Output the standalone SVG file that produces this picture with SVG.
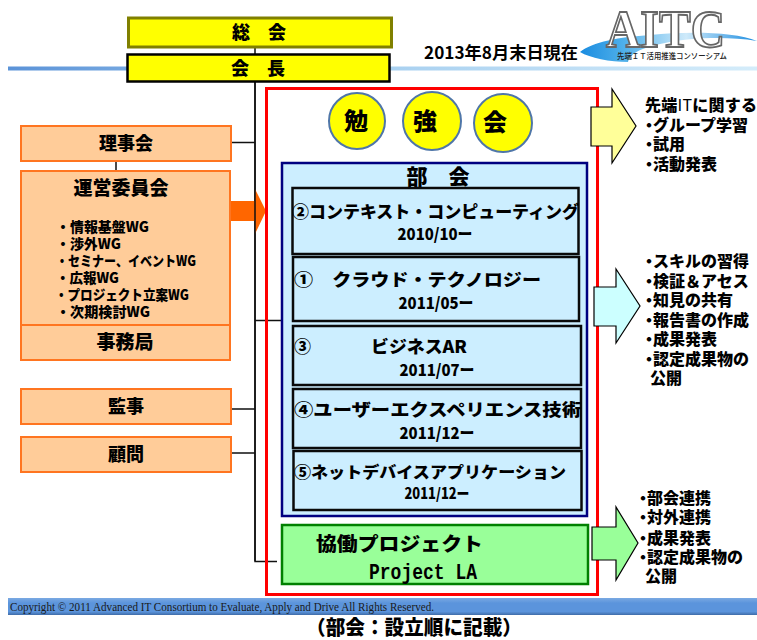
<svg xmlns="http://www.w3.org/2000/svg" width="757" height="640" viewBox="0 0 757 640">
<style>
text{font-family:"Noto Sans CJK JP","Liberation Sans",sans-serif;font-weight:900;fill:#000}
.o{fill:#ffcc99;stroke:#ff7520;stroke-width:2}
.c{fill:#ffff00;stroke:#4f76a8;stroke-width:2}
.b{fill:#cceeff;stroke:#0a0a0a;stroke-width:2.5}
.l{stroke:#111;stroke-width:1.5;fill:none}
.m{text-anchor:middle}
.t18{font-size:18px}.t17{font-size:17px}.t16{font-size:16px}.t14{font-size:14px}
.bu{letter-spacing:-4px}
.n{font-weight:400}
</style>
<defs>
<linearGradient id="rule" x1="0" x2="1" y1="0" y2="0"><stop offset="0" stop-color="#5b93d8"/><stop offset="0.5" stop-color="#a8d0f0"/><stop offset="1" stop-color="#d4ecfa"/></linearGradient>
<linearGradient id="bar" x1="0" x2="0" y1="0" y2="1"><stop offset="0" stop-color="#7aa9e2"/><stop offset="0.3" stop-color="#5b94dc"/><stop offset="0.8" stop-color="#5b94dc"/><stop offset="1" stop-color="#3f6ca8"/></linearGradient>
<linearGradient id="sw" x1="0" x2="1" y1="0" y2="0"><stop offset="0" stop-color="#1a8ce0"/><stop offset="0.25" stop-color="#4fb0ea"/><stop offset="0.6" stop-color="#cfeafa"/><stop offset="1" stop-color="#1a8ce0"/></linearGradient>
</defs>
<rect x="8" y="66.500" width="749" height="4" fill="url(#rule)"/>
<g id="logo">
<path d="M580 52C592 42 620 37 650 35C690 31 735 32 757 41C725 36 690 38 665 43C645 47 630 52 628 62C610 62 590 58 580 52Z" fill="url(#sw)"/>
<text x="606" y="47" font-size="52.500" textLength="119" lengthAdjust="spacingAndGlyphs" style="font-family:'Liberation Serif',serif;font-weight:700;fill:#fff;stroke:#666;stroke-width:1.8">AITC</text>
<text x="617" y="59" font-size="8" textLength="110" lengthAdjust="spacingAndGlyphs" style="font-weight:500;fill:#222">先端ＩＴ活用推進コンソーシアム</text>
</g>
<text id="date" x="424" y="59" font-size="17" textLength="154" lengthAdjust="spacingAndGlyphs" style="font-weight:700">2013年8月末日現在</text>
<g id="connectors">
<path class="l" d="M255 48V54M255 81V561.500H277M231 142.500H255M116 161V171M255 320.500H282M231 409H255M231 453H255"/>
<path d="M231 201H255V189L266 211L255 234V221H231Z" fill="#ff6600"/>
<path class="l" d="M255 81V561"/>
</g>
<g id="n-sokai"><rect x="128.500" y="18" width="263" height="29" fill="#ffff00" stroke="#808000" stroke-width="3"/><text class="m t18" x="259" y="39">総　会</text></g>
<g id="n-kaicho"><rect x="127.500" y="54.500" width="262" height="27" fill="#ffff00" stroke="#000" stroke-width="2.500"/><text class="m t18" x="258" y="75">会　長</text></g>
<g id="n-riji"><rect class="o" x="21" y="126" width="210" height="35"/><text class="m t18" x="126" y="150">理事会</text></g>
<g id="n-unei"><rect class="o" x="21" y="171" width="209" height="154"/><text class="m" font-size="19" x="121" y="195">運営委員会</text>
<g class="t14"><text x="56" y="231.500" textLength="93" lengthAdjust="spacingAndGlyphs">・情報基盤WG</text><text x="56" y="248.500" textLength="65" lengthAdjust="spacingAndGlyphs">・渉外WG</text><text x="56" y="265.500" textLength="140" lengthAdjust="spacingAndGlyphs">・セミナー、イベントWG</text><text x="56" y="282.500" textLength="63" lengthAdjust="spacingAndGlyphs">・広報WG</text><text x="55" y="299.500" textLength="134" lengthAdjust="spacingAndGlyphs">・プロジェクト立案WG</text><text x="56" y="317" textLength="94" lengthAdjust="spacingAndGlyphs">・次期検討WG</text></g></g>
<g id="n-jimu"><rect class="o" x="21" y="325" width="209" height="35"/><text class="m" font-size="19" x="125" y="349">事務局</text></g>
<g id="n-kanji"><rect class="o" x="21" y="389" width="210" height="35"/><text class="m t18" x="126" y="413">監事</text></g>
<g id="n-komon"><rect class="o" x="21" y="437" width="210" height="35"/><text class="m t18" x="126" y="461">顧問</text></g>
<rect id="frame" x="266.500" y="88.500" width="331" height="506" fill="none" stroke="#ff0000" stroke-width="3"/>
<g id="n-ben"><circle class="c" cx="357" cy="121" r="28"/><text class="m" x="356" y="130" font-size="24">勉</text></g>
<g id="n-kyo"><circle class="c" cx="432" cy="121" r="29"/><text class="m" x="425" y="130" font-size="24">強</text></g>
<g id="n-kai"><circle class="c" cx="503" cy="123" r="29"/><text class="m" x="495" y="131" font-size="24">会</text></g>
<g id="n-bukai"><rect x="282" y="163" width="305" height="353" fill="#cceeff" stroke="#000080" stroke-width="2.500"/><text class="m" x="438" y="184" font-size="21">部　会</text></g>
<g id="n-b2"><rect class="b" x="292.500" y="188" width="286" height="66"/><text x="292" y="218" class="t17" textLength="287" lengthAdjust="spacingAndGlyphs">②コンテキスト・コンピューティング</text><text class="m t16" x="435" y="240" textLength="75" lengthAdjust="spacingAndGlyphs">2010/10ー</text></g>
<g id="n-b1"><rect class="b" x="293" y="257" width="286" height="64"/><text x="294" y="286" class="t17" textLength="247" lengthAdjust="spacingAndGlyphs">①　クラウド・テクノロジー</text><text class="m t16" x="436" y="309" textLength="75" lengthAdjust="spacingAndGlyphs">2011/05ー</text></g>
<g id="n-b3"><rect class="b" x="293" y="326" width="288" height="59"/><text x="294" y="353" class="t17">③</text><text x="371" y="353" class="t17" textLength="96" lengthAdjust="spacingAndGlyphs">ビジネスAR</text><text class="m t16" x="437" y="376" textLength="75" lengthAdjust="spacingAndGlyphs">2011/07ー</text></g>
<g id="n-b4"><rect class="b" x="293" y="389" width="288" height="59"/><text x="294" y="416" class="t17" textLength="287" lengthAdjust="spacingAndGlyphs">④ユーザーエクスペリエンス技術</text><text class="m t16" x="437" y="439" textLength="75" lengthAdjust="spacingAndGlyphs">2011/12ー</text></g>
<g id="n-b5"><rect class="b" x="293.500" y="451" width="288" height="59"/><text x="294" y="478" font-size="16" textLength="272" lengthAdjust="spacingAndGlyphs">⑤ネットデバイスアプリケーション</text><text class="m" x="437" y="499" font-size="15" textLength="65" lengthAdjust="spacingAndGlyphs">2011/12ー</text></g>
<g id="n-kyodo"><rect x="282" y="525" width="306" height="59" fill="#99ff99" stroke="#008000" stroke-width="2.500"/><text x="316" y="551" font-size="19" textLength="167" lengthAdjust="spacingAndGlyphs">協働プロジェクト</text><text x="369" y="579" font-size="22" textLength="108" lengthAdjust="spacingAndGlyphs" style="font-family:'Liberation Mono',monospace;font-weight:700">Project LA</text></g>
<g id="a-yellow"><path d="M591 107H612V89L636 126L612 163V146H591Z" fill="#ffff99" stroke="#000" stroke-width="1.200"/></g>
<g id="a-cyan"><path d="M594 287H616V269L640 306L616 343V326H594Z" fill="#ccffff" stroke="#000" stroke-width="1.200"/></g>
<g id="a-green"><path d="M592 527H616V507L638 543L616 580V560H592Z" fill="#99ff99" stroke="#000" stroke-width="1.200"/></g>
<g id="note1" class="t16"><text x="645" y="111" textLength="112" lengthAdjust="spacing">先端<tspan class="n">IT</tspan>に関する</text><text x="641" y="131"><tspan class="bu">・</tspan>グループ学習</text><text x="641" y="150"><tspan class="bu">・</tspan>試用</text><text x="641" y="170"><tspan class="bu">・</tspan>活動発表</text></g>
<g id="note2" class="t16"><text x="641" y="267"><tspan class="bu">・</tspan>スキルの習得</text><text x="641" y="287"><tspan class="bu">・</tspan>検証＆アセス</text><text x="641" y="306"><tspan class="bu">・</tspan>知見の共有</text><text x="641" y="326"><tspan class="bu">・</tspan>報告書の作成</text><text x="641" y="345"><tspan class="bu">・</tspan>成果発表</text><text x="641" y="365"><tspan class="bu">・</tspan>認定成果物の</text><text x="650" y="384">公開</text></g>
<g id="note3" class="t16"><text x="635" y="504"><tspan class="bu">・</tspan>部会連携</text><text x="635" y="523"><tspan class="bu">・</tspan>対外連携</text><text x="635" y="544"><tspan class="bu">・</tspan>成果発表</text><text x="635" y="563"><tspan class="bu">・</tspan>認定成果物の</text><text x="645" y="582">公開</text></g>
<g id="footer"><rect x="8" y="598" width="749" height="17" fill="url(#bar)"/><text x="10" y="611" font-size="11.500" textLength="424" lengthAdjust="spacingAndGlyphs" style="font-family:'Liberation Serif',serif;font-weight:400;fill:#1a1a1a">Copyright © 2011 Advanced IT Consortium to Evaluate, Apply and Drive All Rights Reserved.</text></g>
<text id="caption" x="306" y="635" font-size="20" textLength="216" lengthAdjust="spacingAndGlyphs">（部会：設立順に記載）</text>
</svg>
